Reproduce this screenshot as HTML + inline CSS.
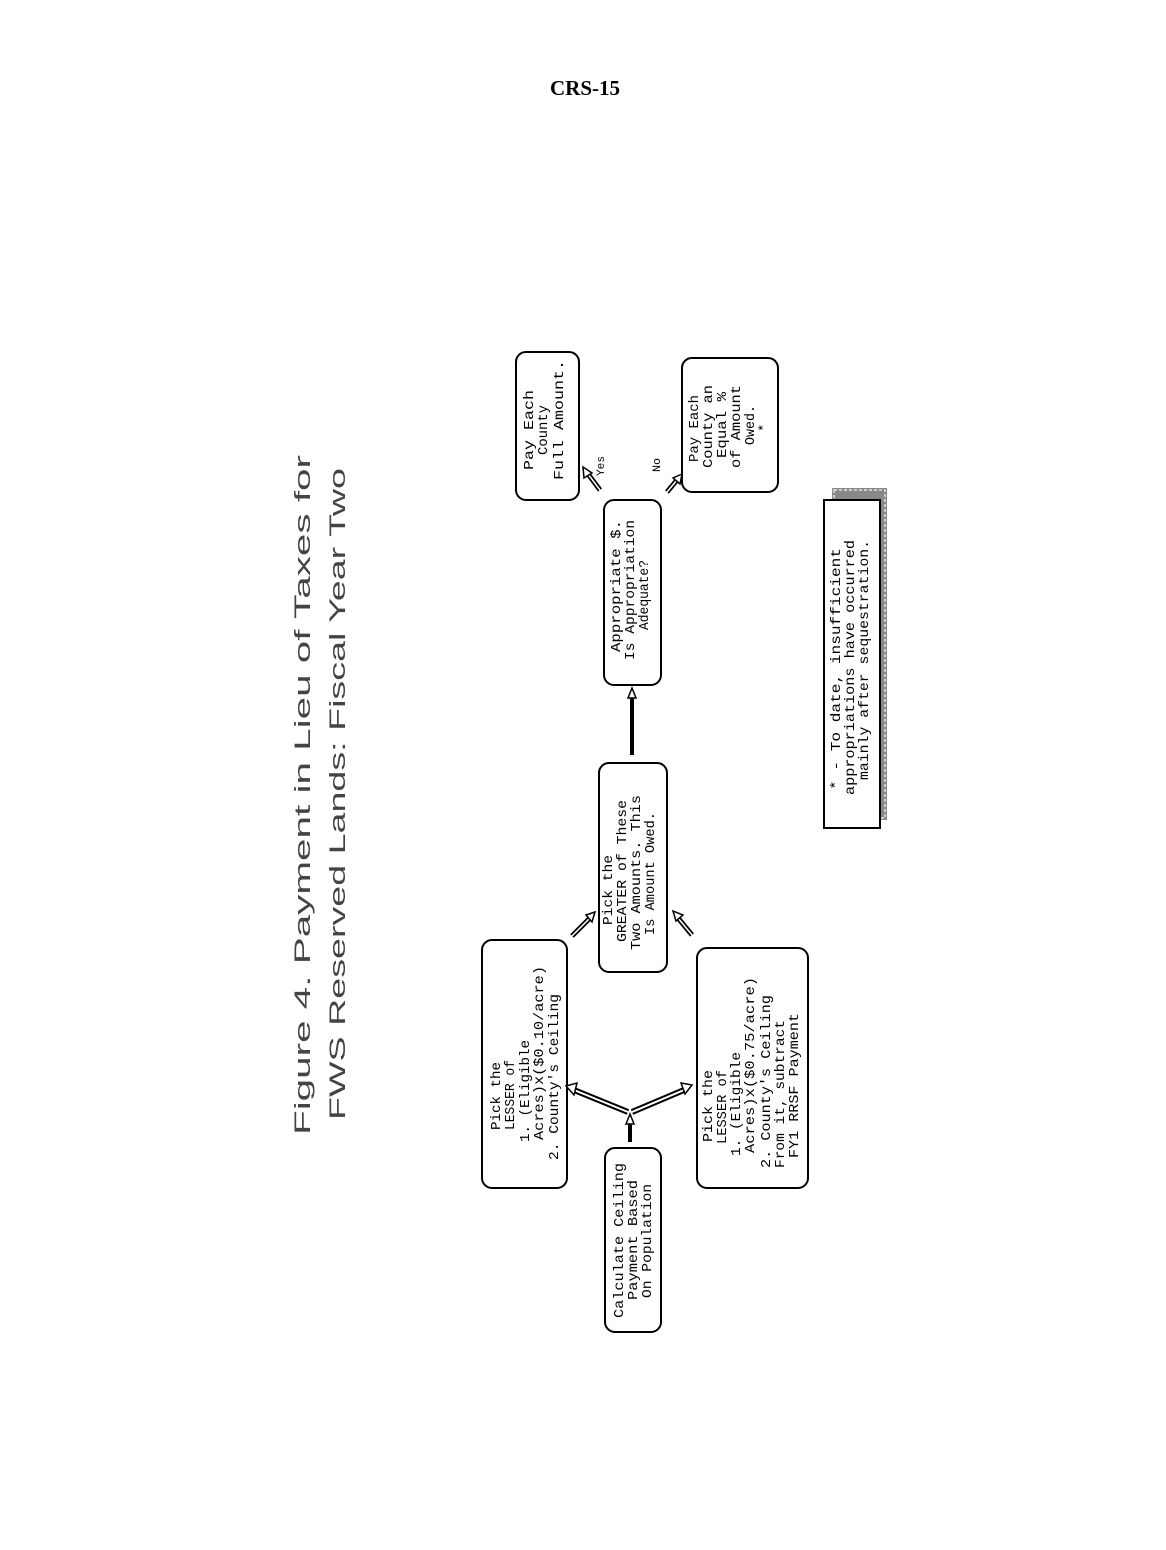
<!DOCTYPE html>
<html><head><meta charset="utf-8"><style>
html,body{margin:0;padding:0;background:#fff;}
svg{display:block;}
.t{font-family:"Liberation Mono",monospace;font-size:14px;fill:#000;}
.h{font-family:"Liberation Sans",sans-serif;font-size:22px;fill:#444;}
</style></head><body>
<svg width="1166" height="1550" viewBox="0 0 1166 1550" xmlns="http://www.w3.org/2000/svg">
<rect width="1166" height="1550" fill="#fff"/>
<text x="585" y="95" text-anchor="middle" font-family="Liberation Serif,serif" font-weight="bold" font-size="21">CRS-15</text>

<text class="h" transform="translate(310,1135) rotate(-90)" textLength="680" lengthAdjust="spacingAndGlyphs">Figure 4.   Payment in Lieu of Taxes for</text>
<text class="h" transform="translate(345,1120) rotate(-90)" textLength="652" lengthAdjust="spacingAndGlyphs">FWS Reserved Lands:   Fiscal Year Two</text>

<g fill="none" stroke="#000" stroke-width="2">
<rect x="605" y="1148" width="56" height="184" rx="10"/>
<rect x="482" y="940" width="85" height="248" rx="10"/>
<rect x="599" y="763" width="68" height="209" rx="10"/>
<rect x="697" y="948" width="111" height="240" rx="10"/>
<rect x="604" y="500" width="57" height="185" rx="10"/>
<rect x="516" y="352" width="63" height="148" rx="10"/>
<rect x="682" y="358" width="96" height="134" rx="10"/>
</g>

<rect x="832" y="488" width="55" height="332" fill="#888"/>
<rect x="834" y="490" width="51" height="328" fill="none" stroke="#ccc" stroke-width="2" stroke-dasharray="3 2"/>
<rect x="824" y="500" width="56" height="328" fill="#fff" stroke="#000" stroke-width="2"/>

<g class="t">
<text transform="translate(623,1318) rotate(-90)" textLength="155" lengthAdjust="spacingAndGlyphs">Calculate Ceiling</text>
<text transform="translate(637,1300) rotate(-90)" textLength="120" lengthAdjust="spacingAndGlyphs">Payment Based</text>
<text transform="translate(651,1298) rotate(-90)" textLength="114" lengthAdjust="spacingAndGlyphs">On Population</text>

<text transform="translate(500,1130) rotate(-90)" textLength="68" lengthAdjust="spacingAndGlyphs">Pick the</text>
<text transform="translate(514,1130) rotate(-90)" textLength="70" lengthAdjust="spacingAndGlyphs">LESSER of</text>
<text transform="translate(529,1142) rotate(-90)" textLength="102" lengthAdjust="spacingAndGlyphs">1. (Eligible</text>
<text transform="translate(543,1140) rotate(-90)" textLength="174" lengthAdjust="spacingAndGlyphs">Acres)x($0.10/acre)</text>
<text transform="translate(558,1160) rotate(-90)" textLength="166" lengthAdjust="spacingAndGlyphs">2. County's Ceiling</text>

<text transform="translate(612,925) rotate(-90)" textLength="70" lengthAdjust="spacingAndGlyphs">Pick the</text>
<text transform="translate(626,942) rotate(-90)" textLength="142" lengthAdjust="spacingAndGlyphs">GREATER of These</text>
<text transform="translate(640,950) rotate(-90)" textLength="155" lengthAdjust="spacingAndGlyphs">Two Amounts.  This</text>
<text transform="translate(654,935) rotate(-90)" textLength="123" lengthAdjust="spacingAndGlyphs">Is Amount Owed.</text>

<text transform="translate(712,1142) rotate(-90)" textLength="72" lengthAdjust="spacingAndGlyphs">Pick the</text>
<text transform="translate(726,1144) rotate(-90)" textLength="74" lengthAdjust="spacingAndGlyphs">LESSER of</text>
<text transform="translate(740,1156) rotate(-90)" textLength="104" lengthAdjust="spacingAndGlyphs">1. (Eligible</text>
<text transform="translate(754,1153) rotate(-90)" textLength="176" lengthAdjust="spacingAndGlyphs">Acres)x($0.75/acre)</text>
<text transform="translate(770,1168) rotate(-90)" textLength="173" lengthAdjust="spacingAndGlyphs">2. County's Ceiling</text>
<text transform="translate(784,1168) rotate(-90)" textLength="148" lengthAdjust="spacingAndGlyphs">From it, subtract</text>
<text transform="translate(798,1158) rotate(-90)" textLength="145" lengthAdjust="spacingAndGlyphs">FY1 RRSF Payment</text>

<text transform="translate(620,652) rotate(-90)" textLength="132" lengthAdjust="spacingAndGlyphs">Appropriate $.</text>
<text transform="translate(634,660) rotate(-90)" textLength="140" lengthAdjust="spacingAndGlyphs">Is Appropriation</text>
<text transform="translate(648,630) rotate(-90)" textLength="70" lengthAdjust="spacingAndGlyphs">Adequate?</text>

<text transform="translate(533,470) rotate(-90)" textLength="80" lengthAdjust="spacingAndGlyphs">Pay Each</text>
<text transform="translate(547,455) rotate(-90)" textLength="50" lengthAdjust="spacingAndGlyphs">County</text>
<text transform="translate(563,480) rotate(-90)" textLength="120" lengthAdjust="spacingAndGlyphs">Full Amount.</text>
<text transform="translate(604,476) rotate(-90)" textLength="20" lengthAdjust="spacingAndGlyphs" font-size="11">Yes</text>
<text transform="translate(660,472) rotate(-90)" textLength="14" lengthAdjust="spacingAndGlyphs" font-size="11">No</text>

<text transform="translate(698,462) rotate(-90)" textLength="67" lengthAdjust="spacingAndGlyphs">Pay Each</text>
<text transform="translate(712,468) rotate(-90)" textLength="83" lengthAdjust="spacingAndGlyphs">County an</text>
<text transform="translate(726,458) rotate(-90)" textLength="66" lengthAdjust="spacingAndGlyphs">Equal %</text>
<text transform="translate(740,468) rotate(-90)" textLength="83" lengthAdjust="spacingAndGlyphs">of Amount</text>
<text transform="translate(754,445) rotate(-90)" textLength="40" lengthAdjust="spacingAndGlyphs">Owed.</text>
<text transform="translate(768,432) rotate(-90)">*</text>

<text transform="translate(840,790) rotate(-90)" textLength="242" lengthAdjust="spacingAndGlyphs">* - To date, insufficient</text>
<text transform="translate(854,795) rotate(-90)" textLength="255" lengthAdjust="spacingAndGlyphs">appropriations have occurred</text>
<text transform="translate(868,780) rotate(-90)" textLength="240" lengthAdjust="spacingAndGlyphs">mainly after sequestration.</text>
</g>

<g stroke="#000" fill="#fff" stroke-linejoin="miter">
<line x1="632" y1="755" x2="632" y2="696" stroke-width="4"/>
<polygon points="632,688 628,698 636,698" stroke-width="1.5"/>
<line x1="630" y1="1142" x2="630" y2="1122" stroke-width="4"/>
<polygon points="630,1114 626,1124 634,1124" stroke-width="1.5"/>
<line x1="628" y1="1112" x2="574" y2="1090" stroke-width="6"/>
<line x1="628" y1="1112" x2="574" y2="1090" stroke="#fff" stroke-width="2"/>
<line x1="632" y1="1112" x2="684" y2="1090" stroke-width="6"/>
<line x1="632" y1="1112" x2="684" y2="1090" stroke="#fff" stroke-width="2"/>
<polygon points="566,1086 577,1083 574,1095" stroke-width="1.5"/>
<polygon points="692,1085 681,1083 685,1094" stroke-width="1.5"/>
<line x1="572" y1="936" x2="590" y2="918" stroke-width="5"/>
<line x1="572" y1="936" x2="590" y2="918" stroke="#fff" stroke-width="1.5"/>
<polygon points="595,912 586,915 592,922" stroke-width="1.5"/>
<line x1="692" y1="935" x2="678" y2="918" stroke-width="5"/>
<line x1="692" y1="935" x2="678" y2="918" stroke="#fff" stroke-width="1.5"/>
<polygon points="673,911 676,921 683,915" stroke-width="1.5"/>
<line x1="600" y1="490" x2="588" y2="474" stroke-width="5"/>
<line x1="600" y1="490" x2="588" y2="474" stroke="#fff" stroke-width="1.5"/>
<polygon points="583,467 584,478 592,473" stroke-width="1.5"/>
<line x1="667" y1="492" x2="677" y2="480" stroke-width="5"/>
<line x1="667" y1="492" x2="677" y2="480" stroke="#fff" stroke-width="1.5"/>
<polygon points="682,474 673,478 680,484" stroke-width="1.5"/>
</g>
</svg>
</body></html>
